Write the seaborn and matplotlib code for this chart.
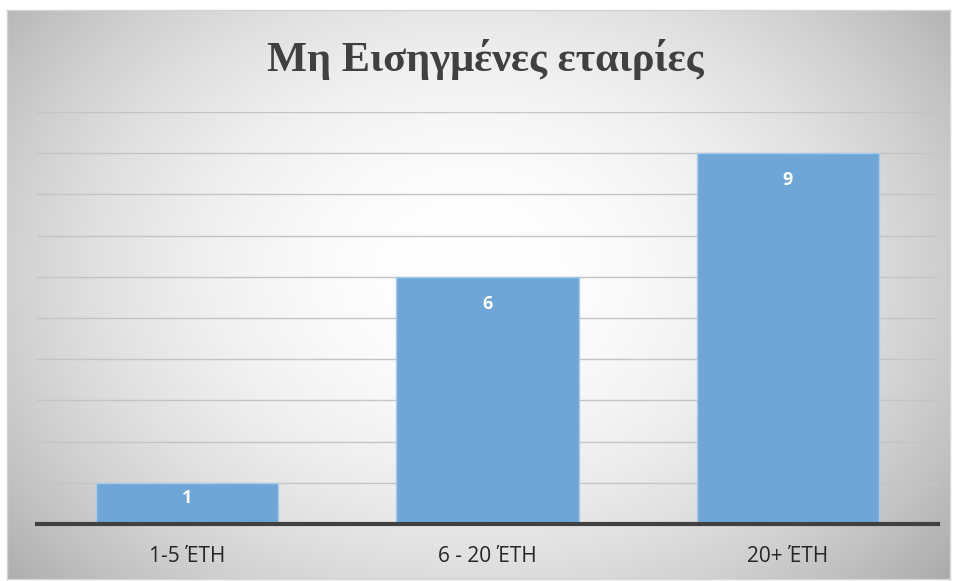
import numpy as np
import pandas as pd
import seaborn as sns
import matplotlib.pyplot as plt

categories = ['1-5 ΈΤΗ', '6 - 20 ΈΤΗ', '20+ ΈΤΗ']
values = [1, 6, 9]
title = 'Μη Εισηγμένες εταιρίες'

W, H = 956, 581
sns.set_theme(style='white')
plt.rcParams['font.family'] = ['Open Sans', 'DejaVu Sans']

fig = plt.figure(figsize=(W / 100, H / 100), dpi=100)
fig.patch.set_facecolor('white')

# chart area with a radial gradient background
bx0, by0, bx1, by1 = 7, 10, 950, 579
bg = fig.add_axes([bx0 / W, 1 - by1 / H, (bx1 - bx0) / W, (by1 - by0) / H])
gx, gy = np.meshgrid(np.linspace(bx0, bx1, 400), np.linspace(by0, by1, 250))
r = np.sqrt(((gx - 470) / 540) ** 2 + ((gy - 270) / 420) ** 2)
shade = 1 - 0.25 * np.clip(r, 0, 1.2) ** 2
bg.imshow(np.dstack([shade, shade, shade]), extent=(0, 1, 0, 1), aspect='auto', origin='upper')
bg.set_xticks([])
bg.set_yticks([])
for s in bg.spines.values():
    s.set_color('#d4d4d4')
    s.set_linewidth(1)

# plot area
px0, py_top, px1, py_base = 37, 112, 938, 524
ax = fig.add_axes([px0 / W, 1 - py_base / H, (px1 - px0) / W, (py_base - py_top) / H])
ax.patch.set_alpha(0)

df = pd.DataFrame({'cat': categories, 'val': values})
sns.barplot(data=df, x='cat', y='val', ax=ax, color='#6fa6d8', saturation=1,
            width=0.607, edgecolor='#a9cbea', linewidth=1, zorder=3)

ax.set_ylim(0, 10)
ax.set_xlim(-0.5, len(categories) - 0.5)
ax.set_yticks(range(0, 11))
ax.yaxis.grid(True, color='#c4c4c4', linewidth=1)
ax.set_axisbelow(True)
ax.tick_params(axis='y', left=False, labelleft=False)
ax.tick_params(axis='x', bottom=False, pad=9.5, labelsize=15, labelcolor='#262626')
ax.set_xlabel('')
ax.set_ylabel('')
for side in ['top', 'right', 'left']:
    ax.spines[side].set_visible(False)
ax.spines['bottom'].set_color('#404040')
ax.spines['bottom'].set_linewidth(3)
ax.spines['bottom'].set_zorder(5)

for i, v in enumerate(values):
    ax.text(i, max(v - 0.66, v * 0.63), str(v), ha='center', va='center',
            color='white', fontsize=13, fontweight='bold', zorder=6)

fig.text(485 / W, 1 - 71 / H, title, ha='center', va='baseline',
         fontsize=30.5, fontweight='bold', color='#404040',
         family=['Liberation Serif', 'DejaVu Serif'])

fig.savefig('out.png', dpi=100)
